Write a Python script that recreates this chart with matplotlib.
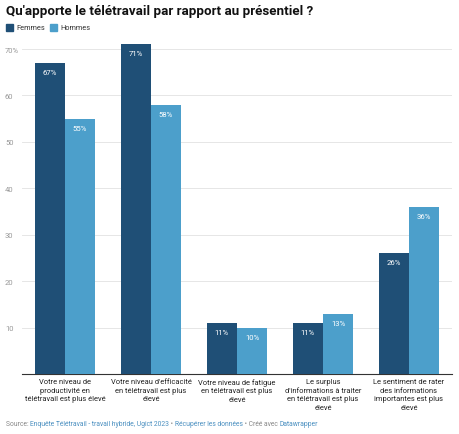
import matplotlib
matplotlib.use("Agg")
import matplotlib.pyplot as plt
import numpy as np

plt.rcParams["font.family"] = ["Roboto", "DejaVu Sans"]

categories = [
    "Votre niveau de\nproductivité en\ntélétravail est plus élevé",
    "Votre niveau d'efficacité\nen télétravail est plus\nélevé",
    "Votre niveau de fatigue\nen télétravail est plus\nélevé",
    "Le surplus\nd'informations à traiter\nen télétravail est plus\nélevé",
    "Le sentiment de rater\ndes informations\nimportantes est plus\nélevé",
]
femmes = [67, 71, 11, 11, 26]
hommes = [55, 58, 10, 13, 36]
yticks = [10, 20, 30, 40, 50, 60, 70]
ytick_labels = ["10", "20", "30", "40", "50", "60", "70%"]

c_f = "#1f4f76"
c_h = "#4c9fcb"

W, H = 460, 435
fig = plt.figure(figsize=(W / 100, H / 100), dpi=100)
ax = fig.add_axes([22 / W, (H - 375) / H, (452 - 22) / W, (375 - 50) / H])

x = np.arange(len(categories))
bw = 0.35
bf = ax.bar(x - bw / 2, femmes, bw, color=c_f, clip_on=False, zorder=3)
bh = ax.bar(x + bw / 2, hommes, bw, color=c_h, clip_on=False, zorder=3)

for bars, vals in [(bf, femmes), (bh, hommes)]:
    for b, v in zip(bars, vals):
        ax.text(b.get_x() + b.get_width() / 2, v - 1.3, "{}%".format(v),
                ha="center", va="top", color="white", fontsize=5.6, zorder=4)

ax.set_xlim(-0.5, len(categories) - 0.5)
ax.set_ylim(0, 70)
ax.set_yticks(yticks)
ax.set_yticklabels(ytick_labels)
ax.grid(axis="y", color="#e6e6e6", linewidth=0.7, zorder=0)
ax.tick_params(axis="y", length=0, labelsize=5.5, labelcolor="#999999", pad=0)
for lab in ax.get_yticklabels():
    lab.set_horizontalalignment("left")
    lab.set_x(-17 / 430)
ax.set_xticks([])
for s in ["top", "right", "left"]:
    ax.spines[s].set_visible(False)
ax.spines["bottom"].set_color("#333333")
ax.spines["bottom"].set_linewidth(0.8)

for xi, c in zip(x, categories):
    ax.text(xi, -0.9, c, ha="center", va="top", fontsize=5.4, color="#222222",
            linespacing=1.3)

fig.text(6 / W, 1 - 12 / H, "Qu'apporte le télétravail par rapport au présentiel ?",
         fontsize=9.6, fontweight="bold", color="#111111", va="center")

# legend
for lx, col, lab in [(6, c_f, "Femmes"), (50, c_h, "Hommes")]:
    fig.patches.append(plt.Rectangle((lx / W, 1 - 32 / H), 7 / W, 7 / H,
                                     transform=fig.transFigure, color=col))
    fig.text((lx + 10) / W, 1 - 28.5 / H, lab, fontsize=5.3, color="#333333", va="center")

# source
parts = [("Source: ", "#888888"), ("Enquête Télétravail - travail hybride, Ugict 2023", "#4a8fc0"),
         (" • ", "#888888"), ("Récupérer les données", "#4a8fc0"),
         (" • Créé avec ", "#888888"), ("Datawrapper", "#4a8fc0")]
t = fig.text(6 / W, 1 - 425 / H, parts[0][0], fontsize=4.9, color=parts[0][1], va="center")
fig.canvas.draw()
for txt, col in parts[1:]:
    t = ax.annotate(txt, xycoords=t, xy=(1, 0), va="bottom", ha="left",
                    fontsize=4.9, color=col, annotation_clip=False)

fig.savefig("out.png", dpi=100)
